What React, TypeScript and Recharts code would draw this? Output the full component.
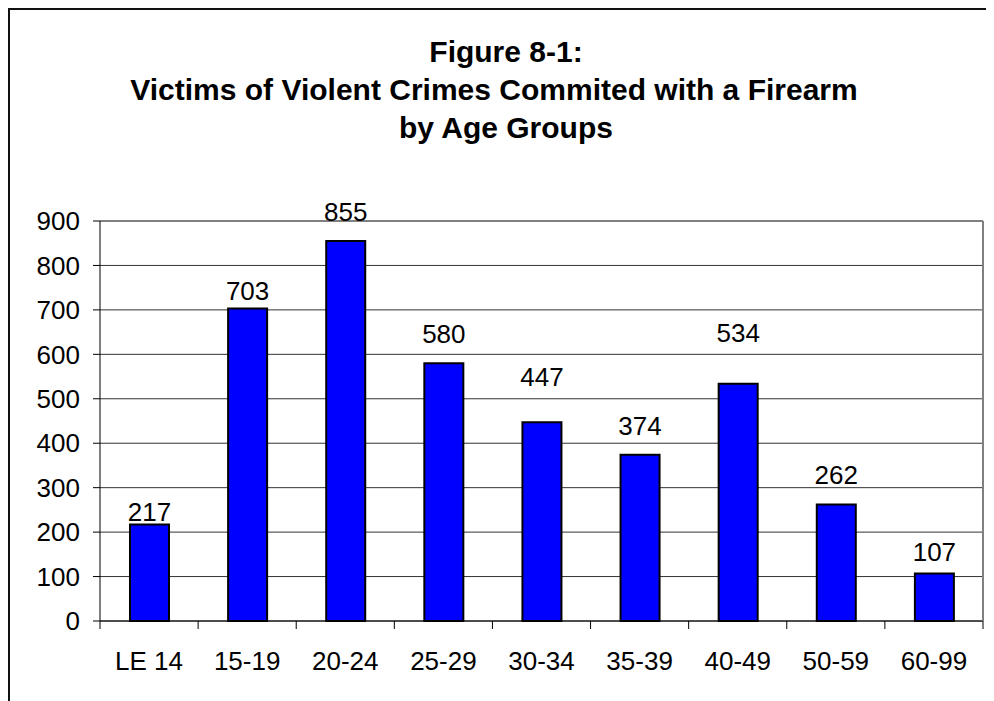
import {
  BarChart,
  Bar,
  XAxis,
  YAxis,
  CartesianGrid,
  LabelList,
  ReferenceLine,
} from "recharts";

const ageGroups = ["LE 14", "15-19", "20-24", "25-29", "30-34", "35-39", "40-49", "50-59", "60-99"];
const victims = [217, 703, 855, 580, 447, 374, 534, 262, 107];
const yTicks = [0, 100, 200, 300, 400, 500, 600, 700, 800, 900];
const titleLines = ["Figure 8-1:", "Victims of Violent Crimes Commited with a Firearm", "by Age Groups"];

// gap in px between bar top and label baseline (labels were hand-placed in the original)
const labelGap = [4, 9, 20, 20, 36, 20, 42, 21, 12];

const FONT = "'Liberation Sans', Arial, sans-serif";

const data = ageGroups.map((g, i) => ({ group: g, value: victims[i] }));

function AgeTick(props: any) {
  const { x, y, payload, index } = props;
  const off = payload?.offset ?? 49;
  const axisY = y - 31;
  return (
    <g>
      <line x1={x - off} x2={x - off} y1={axisY} y2={axisY + 8} stroke="#000" />
      {index === ageGroups.length - 1 && (
        <line x1={x + off} x2={x + off} y1={axisY} y2={axisY + 8} stroke="#000" />
      )}
      <text x={x} y={y} dy="0.71em" textAnchor="middle" fontSize={26} fontFamily={FONT} fill="#000">
        {payload.value}
      </text>
    </g>
  );
}

function ValueLabel(props: any) {
  const { x, y, width, value, index } = props;
  return (
    <text
      x={x + width / 2}
      y={y - labelGap[index]}
      textAnchor="middle"
      fontSize={26}
      fontFamily={FONT}
      fill="#000"
    >
      {value}
    </text>
  );
}

export default function App() {
  return (
    <div
      style={{
        position: "relative",
        width: 984,
        height: 691,
        borderLeft: "2px solid #111",
        borderTop: "2px solid #111",
        background: "#fff",
        fontFamily: FONT,
      }}
    >
      <div
        style={{
          position: "absolute",
          left: 0,
          top: 23,
          width: 992,
          textAlign: "center",
          fontWeight: "bold",
          fontSize: 30,
          lineHeight: "38px",
          color: "#000",
        }}
      >
        {titleLines.map((t, i) => (
          <div key={t} style={{ position: "relative", left: i === 1 ? -12 : 0 }}>
            {t}
          </div>
        ))}
      </div>
      <BarChart
        width={984}
        height={691}
        data={data}
        margin={{ top: 211, right: 10, bottom: 40, left: 0 }}
        barCategoryGap={0}
      >
        <CartesianGrid vertical={false} stroke="#333" />
        <XAxis
          dataKey="group"
          height={40}
          axisLine={{ stroke: "#000" }}
          tickLine={false}
          tickSize={8}
          tickMargin={23}
          interval={0}
          tick={<AgeTick />}
        />
        <YAxis
          width={90}
          domain={[0, 900]}
          ticks={yTicks}
          axisLine={{ stroke: "#000" }}
          tickLine={{ stroke: "#000" }}
          tickSize={7}
          tickMargin={13}
          tick={{ fontSize: 26, fontFamily: FONT, fill: "#000" }}
        />
        <YAxis
          yAxisId="r"
          orientation="right"
          width={1}
          tick={false}
          tickLine={false}
          axisLine={{ stroke: "#808080", strokeWidth: 2 }}
        />
        <ReferenceLine y={900} stroke="#808080" strokeWidth={2} />
        <Bar
          dataKey="value"
          fill="#0000FF"
          stroke="#000"
          strokeWidth={2}
          barSize={39}
          isAnimationActive={false}
        >
          <LabelList dataKey="value" content={<ValueLabel />} />
        </Bar>
      </BarChart>
    </div>
  );
}
